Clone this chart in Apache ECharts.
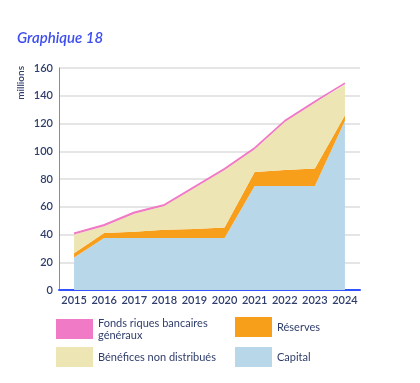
<!DOCTYPE html>
<html><head><meta charset="utf-8">
<script src="https://cdn.jsdelivr.net/npm/echarts@6/dist/echarts.min.js"></script>
<style>html,body{margin:0;padding:0;background:#fff}#c{width:420px;height:383px}</style>
</head><body><div id="c"></div>
<script>
var years = ['2015','2016','2017','2018','2019','2020','2021','2022','2023','2024'];
var capital = [23.5, 37.5, 37.5, 37.5, 37.5, 37.5, 75, 75, 75, 122];
var reserves = [3, 3.5, 4.5, 6, 6.5, 7.5, 10, 11.5, 12.5, 4];
var benefices = [13.5, 5, 13, 17, 29.5, 41.5, 16.5, 34.5, 47.5, 22];
var fonds = [1, 1, 1, 1, 1, 1, 1, 1, 1, 1];
var yTicks = [0, 20, 40, 60, 80, 100, 120, 140, 160];

var navy = '#2f3d6b';
var font = 'Lato, "Open Sans", sans-serif';
var chart = echarts.init(document.getElementById('c'), null, {renderer:'canvas'});

function area(name, data, color, lw, lc) {
  return {
    name: name, type: 'line', stack: 't', data: data, showSymbol: false, symbol: 'none',
    lineStyle: {width: lw, color: lc || color}, areaStyle: {color: color, opacity: 1},
    itemStyle: {color: color}, emphasis: {disabled: true}, z: 2
  };
}
function leg(name, left, top) {
  return {
    data: [name], left: left, top: top, itemWidth: 37, itemHeight: 20, icon: 'rect',
    selectedMode: false,
    textStyle: {color: navy, fontSize: 11, fontFamily: font, lineHeight: 12, padding: [0,0,0,0]},
    itemGap: 0
  };
}

chart.setOption({
  animation: false,
  backgroundColor: '#fff',
  title: {text: 'Graphique 18', left: 12, top: 26,
    textStyle: {color: '#3d4ef0', fontSize: 15, fontStyle: 'italic', fontWeight: 600, fontFamily: font}},
  graphic: [{type: 'text', left: 16, top: 66, rotation: Math.PI/2,
    style: {text: 'millions', fill: navy, font: '600 10px ' + font}}],
  legend: [
    leg('Fonds riques bancaires\ngénéraux', 51, 312),
    leg('Réserves', 230, 312),
    leg('Bénéfices non distribués', 51, 342),
    leg('Capital', 230, 342)
  ],
  grid: {left: 59, right: 60, top: 68, bottom: 93},
  xAxis: {type: 'category', data: years, boundaryGap: true,
    axisLine: {lineStyle: {color: '#3352ff', width: 2}}, axisTick: {show: false},
    axisLabel: {color: navy, fontSize: 11, fontWeight: 600, fontFamily: font, margin: 5, interval: 0}},
  yAxis: {type: 'value', min: 0, max: 160, interval: 20,
    axisLine: {show: true, lineStyle: {color: '#6f86ff', width: 1}}, axisTick: {show: false},
    splitLine: {lineStyle: {color: '#dcdcdc', width: 1.5}},
    axisLabel: {color: navy, fontSize: 11, fontWeight: 600, fontFamily: font, margin: 6,
      formatter: function(v){ return yTicks.indexOf(v) >= 0 ? String(v) : ''; }}},
  series: [
    area('Capital', capital, '#b8d8ea', 0),
    area('Réserves', reserves, '#f79e1b', 0),
    area('Bénéfices non distribués', benefices, '#ede5b4', 0),
    area('Fonds riques bancaires\ngénéraux', fonds, '#f07ac6', 1.5)
  ]
});
</script></body></html>
